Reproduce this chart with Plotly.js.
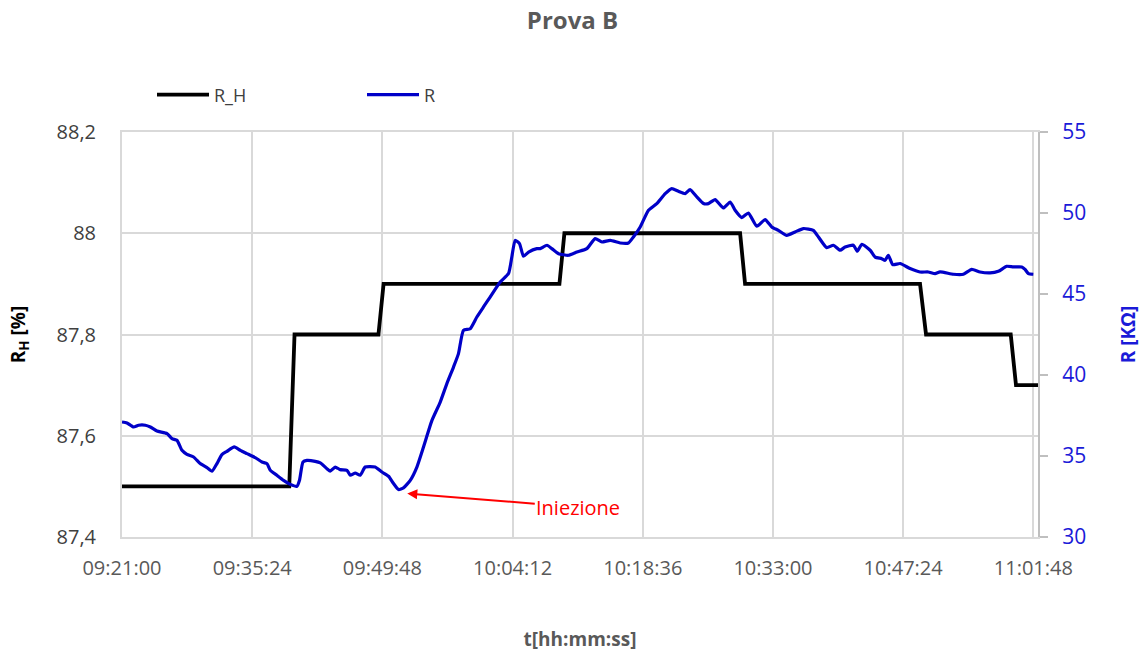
<!DOCTYPE html>
<html>
<head>
<meta charset="utf-8">
<script src="https://cdn.plot.ly/plotly-3.0.1.min.js"></script>
<style>html,body{margin:0;padding:0;background:#fff;}#chart{width:1145px;height:653px;}</style>
</head>
<body>
<div id="chart"></div>
<script>
const DAY = '2021-01-01';

// R_H step series (relative humidity, %)
const timeRH = ['09:21:00','09:39:30','09:40:05','09:49:22','09:49:56','10:09:23','10:09:56',
                '10:29:22','10:29:55','10:49:16','10:49:56','10:59:18','10:59:53','11:02:19'];
const valRH  = [87.5,87.5,87.8,87.8,87.9,87.9,88.0,88.0,87.9,87.9,87.8,87.8,87.7,87.7];

// R series (resistance, kOhm)
const timeR = ['09:21:00','09:21:33','09:22:17','09:22:50','09:23:35','09:24:08','09:24:52','09:25:59',
  '09:26:32','09:27:05','09:27:38','09:28:11','09:28:55','09:29:39','09:30:24','09:30:57','09:31:30',
  '09:32:03','09:32:37','09:33:25','09:34:05','09:34:49','09:35:44','09:36:29','09:37:02','09:37:24',
  '09:38:08','09:38:52','09:39:37','09:40:21','09:40:38','09:41:01','09:41:27','09:42:22','09:42:56',
  '09:43:40','09:44:02','09:44:35','09:45:08','09:45:53','09:46:15','09:46:48','09:47:21','09:47:54',
  '09:49:00','09:49:45','09:50:29','09:51:02','09:51:35','09:52:08','09:52:53','09:53:37','09:54:21',
  '09:55:17','09:56:12','09:56:56','09:57:40','09:58:13','09:58:46','09:59:31','10:00:15','10:00:59',
  '10:01:43','10:02:50','10:03:45','10:04:07','10:04:29','10:04:58','10:05:24','10:05:58','10:06:53',
  '10:07:15','10:08:00','10:08:33','10:09:17','10:10:23','10:11:19','10:12:25','10:13:20','10:14:05',
  '10:15:00','10:16:06','10:17:01','10:17:34','10:18:19','10:19:14','10:20:09','10:21:05','10:21:49',
  '10:22:33','10:23:17','10:23:50','10:24:35','10:25:19','10:25:52','10:26:36','10:27:31','10:28:16',
  '10:28:49','10:29:33','10:30:17','10:31:13','10:32:08','10:32:52','10:33:36','10:34:32','10:35:27',
  '10:36:22','10:37:28','10:38:02','10:38:57','10:39:41','10:40:26','10:40:59','10:41:54','10:42:20',
  '10:42:50','10:43:45','10:44:18','10:45:02','10:45:24','10:45:46','10:46:15','10:47:04','10:48:10',
  '10:49:16','10:50:11','10:50:56','10:51:29','10:52:57','10:54:04','10:54:59','10:55:54','10:57:01',
  '10:57:56','10:58:51','10:59:35','11:00:31','11:00:53','11:01:15','11:01:48'];
const valR = [37.10,37.04,36.79,36.90,36.90,36.79,36.54,36.38,
  36.07,35.97,35.35,35.10,34.94,34.53,34.28,34.06,34.53,
  35.09,35.29,35.56,35.35,35.15,34.90,34.63,34.53,34.12,
  33.81,33.50,33.25,33.13,33.50,34.63,34.73,34.67,34.57,
  34.22,34.07,34.32,34.16,34.12,33.81,33.95,33.81,34.32,
  34.32,34.01,33.75,33.30,32.93,33.03,33.50,34.32,35.56,
  37.20,38.33,39.47,40.49,41.32,42.76,42.86,43.58,44.20,
  44.81,45.74,46.26,47.28,48.31,48.11,47.33,47.59,47.80,
  47.80,48.01,47.80,47.49,47.39,47.59,47.80,48.42,48.21,
  48.31,48.15,48.15,48.52,49.14,50.17,50.58,51.20,51.51,
  51.34,51.20,51.44,50.99,50.58,50.58,50.83,50.31,50.68,
  50.17,49.72,50.00,49.18,49.59,49.14,48.93,48.62,48.83,
  49.04,48.93,48.52,47.86,48.01,47.70,47.90,48.01,47.64,
  48.07,47.70,47.28,47.18,47.08,47.39,46.81,46.88,46.57,
  46.36,46.36,46.26,46.36,46.22,46.22,46.52,46.36,46.30,
  46.40,46.71,46.67,46.67,46.52,46.26,46.22];

const xTickStart = '09:21:00';
const xRangeEnd = '11:02:19';
const rhTicks = [87.4, 87.6, 87.8, 88.0, 88.2];

// Annotation target (injection moment)
const injTime = '09:52:20';
const injR = 32.7;

const toDate = t => DAY + ' ' + t;

const traces = [
  {x: timeRH.map(toDate), y: valRH, name: 'R_H', type: 'scatter', mode: 'lines',
   line: {color: '#000000', width: 3.8}, yaxis: 'y'},
  {x: timeR.map(toDate), y: valR, name: 'R', type: 'scatter', mode: 'lines',
   line: {color: '#0000C8', width: 3.2, shape: 'spline', smoothing: 0.5}, yaxis: 'y2'}
];

const grid = '#d9d9d9';
const layout = {
  width: 1145, height: 653,
  margin: {l: 122, r: 107, t: 132, b: 116},
  paper_bgcolor: '#ffffff', plot_bgcolor: '#ffffff',
  separators: ',.',
  font: {family: 'Open Sans, sans-serif', color: '#595959'},
  showlegend: true,
  legend: {orientation: 'h', xref: 'container', yref: 'container', x: 152/1145, y: 1 - 95/653,
           xanchor: 'left', yanchor: 'middle', font: {size: 18, color: '#404040'},
           entrywidth: 143, entrywidthmode: 'pixels', itemwidth: 52, bgcolor: 'rgba(0,0,0,0)'},
  title: {text: '<b>Prova B</b>', xref: 'container', x: 0.5, xanchor: 'center',
          yref: 'container', y: 1 - 21/653, yanchor: 'middle',
          font: {size: 24, color: '#595959', family: 'Open Sans, sans-serif'}},
  xaxis: {
    type: 'date', range: [toDate(xTickStart), toDate(xRangeEnd)],
    tick0: toDate(xTickStart), dtick: 864000, tickformat: '%H:%M:%S',
    showgrid: true, gridcolor: grid, gridwidth: 2,
    showline: true, linecolor: grid, linewidth: 2, mirror: true,
    ticks: '', ticklabelstandoff: 12, zeroline: false,
    tickfont: {size: 20, color: '#595959'},
    title: {text: '<b>t[hh:mm:ss]</b>', standoff: 53, font: {size: 19, color: '#595959'}}
  },
  yaxis: {
    range: [87.4, 88.2], tickvals: rhTicks,
    showgrid: true, gridcolor: grid, gridwidth: 2,
    showline: true, linecolor: grid, linewidth: 2, zeroline: false,
    ticks: '', ticklabelstandoff: 20,
    tickfont: {size: 20, color: '#404040'},
    title: {text: '<b>R<sub>H</sub> [%]</b>', standoff: 26, font: {size: 19, color: '#000000'}}
  },
  yaxis2: {
    overlaying: 'y', side: 'right', range: [30, 55], dtick: 5, tick0: 30,
    showgrid: false, zeroline: false,
    showline: true, linecolor: '#bfbfbf', linewidth: 2,
    ticks: 'outside', ticklen: 8, tickcolor: '#bfbfbf', tickwidth: 2, ticklabelstandoff: 10,
    tickfont: {size: 21, color: '#1a1ad8'},
    title: {text: '<b>R [KΩ]</b>', standoff: 36, font: {size: 19, color: '#1a1ad8'}}
  },
  annotations: [
    {x: toDate(injTime), y: injR, xref: 'x', yref: 'y2', text: 'Iniezione',
     showarrow: true, arrowhead: 2, arrowsize: 1, arrowwidth: 2, arrowcolor: '#ff0000',
     ax: 173, ay: 14, font: {size: 20, color: '#ff0000'}, standoff: 2},
    {xref: 'container', yref: 'container', x: 964/1145, y: 1 - 80/653, xanchor: 'center', yanchor: 'middle',
     text: 'T = 20,2°C', showarrow: false, font: {size: 21, color: '#202020'}}
  ]
};

Plotly.newPlot('chart', traces, layout, {displayModeBar: false, staticPlot: true});
</script>
</body>
</html>
